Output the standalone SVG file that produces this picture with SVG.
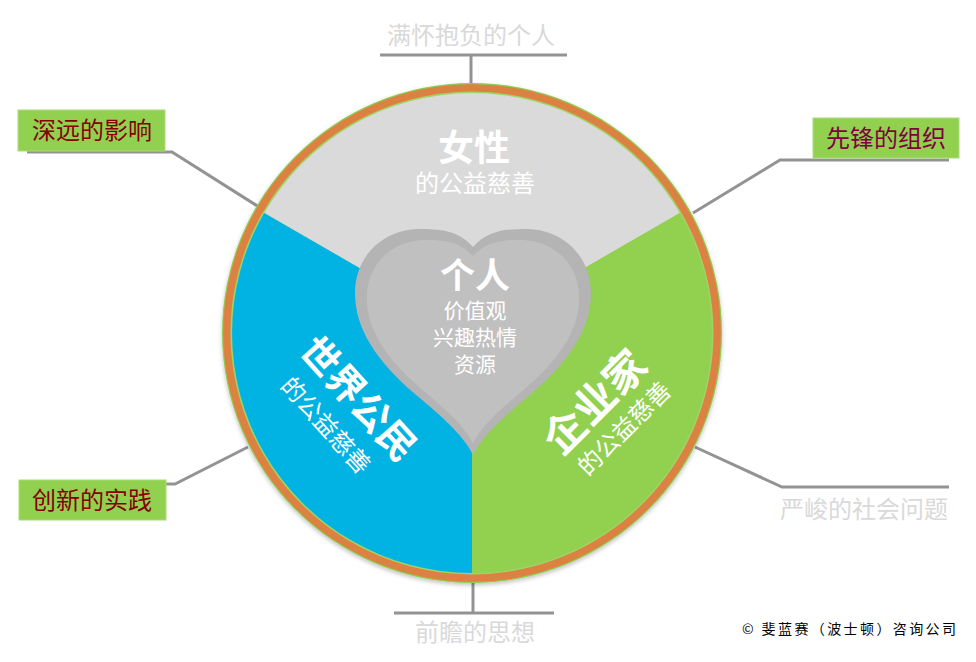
<svg xmlns="http://www.w3.org/2000/svg" width="976" height="662" viewBox="0 0 976 662">
<defs>
<style>
text{font-family:"Noto Sans CJK SC","Noto Sans",sans-serif}
.conn{fill:none;stroke:#939393;stroke-width:3}
.glabel{fill:#d9d9d9;font-size:24px;text-anchor:middle}
.box{fill:#92d050;stroke:#a9dc78;stroke-width:1}
.btext{font-size:24px;text-anchor:middle}
.wbig{fill:#ffffff;font-weight:bold;text-anchor:middle}
.wsm{fill:#ffffff;text-anchor:middle}
</style>
<filter id="sh" x="-10%" y="-10%" width="120%" height="120%">
<feDropShadow dx="0" dy="2" stdDeviation="2" flood-color="#000" flood-opacity="0.25"/>
</filter>
</defs>
<rect width="976" height="662" fill="#ffffff"/>

<g id="connectors">
<polyline class="conn" points="380,55 567,55"/>
<polyline class="conn" points="471,55 471,84"/>
<polyline class="conn" points="27,152 172,152 259,207"/>
<polyline class="conn" points="949,160 780,160 693,213"/>
<polyline class="conn" points="160,484 175,484 248,447"/>
<polyline class="conn" points="695,447 782,487 949,487"/>
<polyline class="conn" points="394,613 554,613"/>
<polyline class="conn" points="473,583 473,613"/>
</g>

<g id="wheel">
<circle cx="472" cy="333" r="250" fill="#8fcc52" filter="url(#sh)"/>
<circle cx="472" cy="333" r="248.8" fill="#dc8142"/>
<circle cx="472" cy="333" r="241.5" fill="#9fd464"/>
<path id="sector-women" d="M472,333 L264.2,213 A240,240 0 0,1 679.8,213 Z" fill="#dadada"/>
<path id="sector-biz" d="M472,333 L679.8,213 A240,240 0 0,1 472,573 Z" fill="#92d050"/>
<path id="sector-world" d="M472,333 L472,573 A240,240 0 0,1 264.2,213 Z" fill="#00b3e3"/>
</g>

<g id="node-women">
<text class="wbig" x="474" y="161" font-size="36">女性</text>
<text class="wsm" x="475" y="192" font-size="24">的公益慈善</text>
</g>

<g id="node-world" transform="translate(358,399) rotate(48)">
<text class="wbig" x="0" y="13" font-size="38">世界公民</text>
<text class="wsm" x="-2" y="50" font-size="24">的公益慈善</text>
</g>

<g id="node-biz" transform="translate(595,402) rotate(-45)">
<text class="wbig" x="0" y="15" font-size="42">企业家</text>
<text class="wsm" x="2" y="48" font-size="24">的公益慈善</text>
</g>

<g id="node-heart">
<path d="M473,247 C458,230 440,229 418,229 C383,230 355,256 355,293 C355,336 386,370 421,399 C446,420 465,438 473,455 C481,438 500,420 525,399 C560,370 591,336 591,293 C591,256 563,230 528,229 C506,229 488,230 473,247 Z" fill="#b4b4b4"/>
<path transform="translate(473,338) scale(0.9) translate(-473,-338)" d="M473,247 C458,230 440,229 418,229 C383,230 355,256 355,293 C355,336 386,370 421,399 C446,420 465,438 473,455 C481,438 500,420 525,399 C560,370 591,336 591,293 C591,256 563,230 528,229 C506,229 488,230 473,247 Z" fill="#c0c0c0"/>
<text class="wbig" x="475" y="288" font-size="35">个人</text>
<text class="wsm" x="475" y="318" font-size="21">价值观</text>
<text class="wsm" x="475" y="345" font-size="21">兴趣热情</text>
<text class="wsm" x="475" y="372" font-size="21">资源</text>
</g>

<g id="label-top">
<text class="glabel" x="471" y="44">满怀抱负的个人</text>
</g>

<g id="label-left-top">
<rect class="box" x="18" y="110" width="147" height="41"/>
<text class="btext" x="92" y="139" fill="#850000">深远的影响</text>
</g>

<g id="label-right-top">
<rect class="box" x="813" y="118" width="146" height="40"/>
<text class="btext" x="886" y="147" fill="#800040">先锋的组织</text>
</g>

<g id="label-left-bottom">
<rect class="box" x="19" y="480" width="147" height="40"/>
<text class="btext" x="92" y="509" fill="#850000">创新的实践</text>
</g>

<g id="label-right-bottom">
<text class="glabel" x="864" y="518">严峻的社会问题</text>
</g>

<g id="label-bottom">
<text class="glabel" x="475" y="641">前瞻的思想</text>
</g>

<g id="copyright">
<text x="742" y="634" font-size="14" fill="#000000" textLength="214" lengthAdjust="spacing">© 斐蓝赛（波士顿）咨询公司</text>
</g>
</svg>
